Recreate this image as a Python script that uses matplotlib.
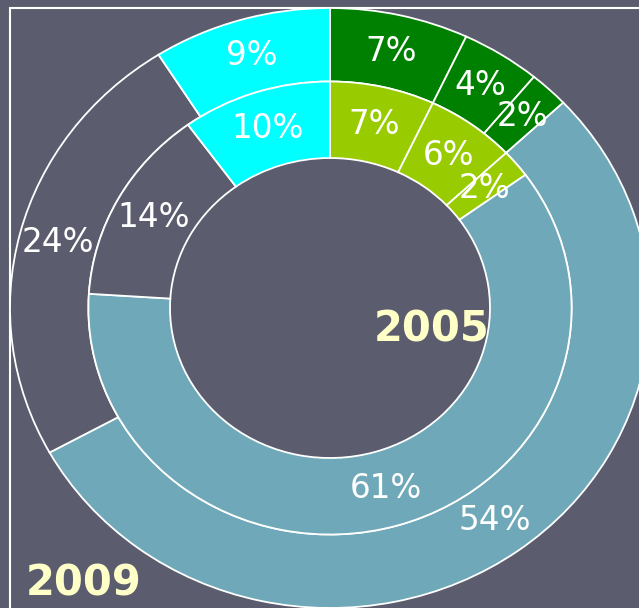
import matplotlib
matplotlib.use('Agg')
import matplotlib.pyplot as plt
from matplotlib.patches import Rectangle

bg = '#5b5c6d'

# outer ring = 2009, inner ring = 2005 (clockwise from 12 o'clock)
share_2009 = [7, 4, 2, 54, 24, 9]
share_2005 = [7, 6, 2, 61, 14, 10]
colors_2009 = ['#008000', '#008000', '#008000', '#6fa8b8', bg, '#00ffff']
colors_2005 = ['#99cc00', '#99cc00', '#99cc00', '#6fa8b8', bg, '#00ffff']
year_labels = ['2009', '2005']

fig = plt.figure(figsize=(6.39, 6.08), dpi=100, facecolor=bg)
ax = fig.add_axes([0, 0, 1, 1])
ax.set_facecolor(bg)

wedge_kw = dict(edgecolor='white', linewidth=1.3)
_, _, t_out = ax.pie(share_2009, colors=colors_2009, startangle=90, counterclock=False,
                     radius=1.0, autopct='%.0f%%', pctdistance=0.8775 / 1.0,
                     wedgeprops=dict(width=0.245, **wedge_kw))
_, _, t_in = ax.pie(share_2005, colors=colors_2005, startangle=90, counterclock=False,
                    radius=0.755, autopct='%.0f%%', pctdistance=0.6275 / 0.755,
                    wedgeprops=dict(width=0.255, **wedge_kw))

for t in t_out + t_in:
    t.set_color('white')
    t.set_fontsize(23.5)

# stretched a bit wider than tall, like the slide
ax.set_aspect('auto')
ax.set_xlim(-330 / 320, 309 / 320)
ax.set_ylim(-300 / 300, 308 / 300)
ax.axis('off')

ax.text(0.319, -0.073, year_labels[1], color='#ffffc8', fontsize=30,
        fontweight='bold', ha='center', va='center')
ax.text(-0.769, -0.917, year_labels[0], color='#ffffc8', fontsize=30,
        fontweight='bold', ha='center', va='center')

fig.add_artist(Rectangle((9.5 / 639, -0.1), 1.2, 600 / 608 + 0.1, transform=fig.transFigure,
                         fill=False, edgecolor='white', linewidth=1.5, zorder=0))

fig.savefig('out.png', dpi=100, facecolor=bg)
